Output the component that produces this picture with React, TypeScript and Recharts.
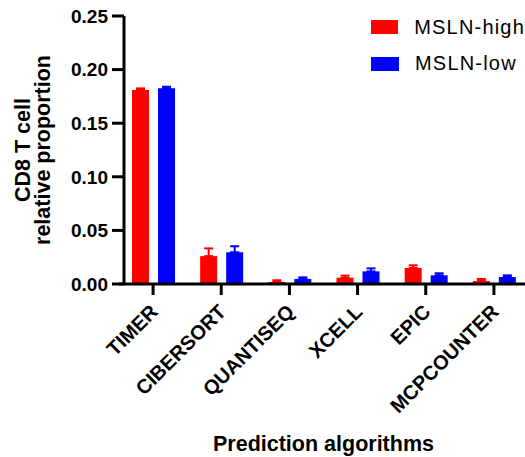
import React from "react";
import {
  BarChart,
  Bar,
  XAxis,
  YAxis,
  ErrorBar,
  Legend,
  Label,
} from "recharts";

const FONT = '"Liberation Sans", Arial, sans-serif';
const RED = "#FF0000";
const BLUE = "#0000FF";

const algorithms = ["TIMER", "CIBERSORT", "QUANTISEQ", "XCELL", "EPIC", "MCPCOUNTER"];
const highMean = [0.181, 0.026, 0.0019, 0.0059, 0.0149, 0.0028];
const highSem = [0.0015, 0.0072, 0.0016, 0.0019, 0.0025, 0.0019];
const lowMean = [0.1826, 0.0296, 0.0047, 0.0118, 0.0081, 0.0065];
const lowSem = [0.0014, 0.0056, 0.0015, 0.0028, 0.0019, 0.0016];
const yTicks = [0, 0.05, 0.1, 0.15, 0.2, 0.25];

const seriesNames = ["MSLN-high", "MSLN-low"];
const seriesColors = [RED, BLUE];

// y axis sits a few px right of where the first category band starts
const Y_SHIFT = 5;

const data = algorithms.map((name, i) => ({
  name,
  high: highMean[i],
  highErr: [0, highSem[i]],
  low: lowMean[i],
  lowErr: [0, lowSem[i]],
}));

function XTick({ x, y, payload }: any) {
  return (
    <g transform={`translate(${x + 6},${y + 16}) rotate(-45)`}>
      <text
        x={0}
        y={0}
        textAnchor="end"
        fontFamily={FONT}
        fontWeight="bold"
        fontSize={20}
        fill="#000"
      >
        {payload.value}
      </text>
    </g>
  );
}

function YTitle() {
  const st = { fontFamily: FONT, fontWeight: "bold", fontSize: 21.5, fill: "#000" } as any;
  return (
    <g>
      <text transform="translate(30,150) rotate(-90)" textAnchor="middle" style={st}>
        CD8 T cell
      </text>
      <text transform="translate(50,150) rotate(-90)" textAnchor="middle" style={st}>
        relative proportion
      </text>
    </g>
  );
}

function LegendBox() {
  return (
    <div style={{ fontFamily: FONT, fontSize: 20, color: "#000" }}>
      {seriesNames.map((n, i) => (
        <div
          key={n}
          style={{ display: "flex", alignItems: "center", height: 36.5 }}
        >
          <div
            style={{
              width: 28,
              height: 14,
              background: seriesColors[i],
              marginRight: 16,
            }}
          />
          <span style={{ letterSpacing: 1.2, whiteSpace: "nowrap" }}>{n}</span>
        </div>
      ))}
    </div>
  );
}

export default function App() {
  return (
    <div
      style={{
        position: "absolute",
        left: 0,
        top: 0,
        width: 525,
        height: 457,
        overflow: "hidden",
        background: "#fff",
      }}
    >
      <BarChart
        width={525}
        height={457}
        data={data}
        margin={{ top: 16, right: -3, left: 59, bottom: 0 }}
        barGap={9}
        barSize={17}
      >
        <XAxis
          dataKey="name"
          height={173}
          axisLine={{ stroke: "#000", strokeWidth: 3 }}
          tickLine={{ stroke: "#000", strokeWidth: 3 }}
          tickSize={11}
          tickMargin={2}
          tick={<XTick />}
          interval={0}
        >
          <Label
            value="Prediction algorithms"
            position="insideBottom"
            offset={6}
            style={{ fontFamily: FONT, fontWeight: "bold", fontSize: 21.5, fill: "#000" }}
          />
        </XAxis>
        <YAxis
          width={60}
          domain={[0, 0.25]}
          ticks={yTicks}
          allowDataOverflow
          tickFormatter={(v: number) => v.toFixed(2)}
          axisLine={{ stroke: "#000", strokeWidth: 3, transform: `translate(${Y_SHIFT},0)` }}
          tickLine={{ stroke: "#000", strokeWidth: 3, transform: `translate(${Y_SHIFT},0)` }}
          tickSize={12}
          tickMargin={4}
          tick={{ fontFamily: FONT, fontWeight: "bold", fontSize: 19, fill: "#000", dx: Y_SHIFT }}
        >
          <Label content={<YTitle />} />
        </YAxis>
        <Legend
          verticalAlign="middle"
          align="center"
          layout="vertical"
          wrapperStyle={{ position: "absolute", left: 371, top: 9, width: 154 }}
          content={<LegendBox />}
        />
        <Bar dataKey="high" name="MSLN-high" fill={RED} isAnimationActive={false}>
          <ErrorBar dataKey="highErr" width={4.5} stroke={RED} strokeWidth={2} />
        </Bar>
        <Bar dataKey="low" name="MSLN-low" fill={BLUE} isAnimationActive={false}>
          <ErrorBar dataKey="lowErr" width={4.5} stroke={BLUE} strokeWidth={2} />
        </Bar>
      </BarChart>
    </div>
  );
}
